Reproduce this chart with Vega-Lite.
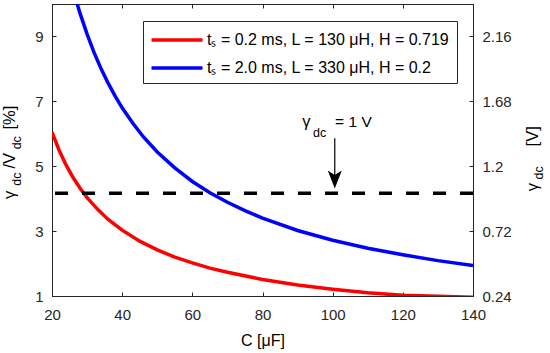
{
  "$schema": "https://vega.github.io/schema/vega-lite/v6.json",
  "width": 421,
  "height": 292,
  "autosize": "none",
  "padding": {"left": 52, "top": 4, "right": 77, "bottom": 57},
  "background": "white",
  "config": {
    "view": {"stroke": "#262626", "strokeWidth": 1},
    "font": "Liberation Sans",
    "axis": {
      "grid": false,
      "domainColor": "#262626",
      "tickColor": "#262626",
      "labelColor": "#262626",
      "labelFont": "Liberation Sans",
      "labelFontSize": 15,
      "labelFlush": false,
      "tickSize": -4,
      "domainWidth": 1,
      "tickWidth": 1
    }
  },
  "layer": [
    {
      "layer": [
        {
          "data": {
            "values": [
              {"series": "tₛ = 0.2 ms, L = 130 μH, H = 0.719", "C": 20, "v": 6.05},
              {"series": "tₛ = 0.2 ms, L = 130 μH, H = 0.719", "C": 22, "v": 5.5},
              {"series": "tₛ = 0.2 ms, L = 130 μH, H = 0.719", "C": 24, "v": 5.04},
              {"series": "tₛ = 0.2 ms, L = 130 μH, H = 0.719", "C": 26, "v": 4.65},
              {"series": "tₛ = 0.2 ms, L = 130 μH, H = 0.719", "C": 28, "v": 4.32},
              {"series": "tₛ = 0.2 ms, L = 130 μH, H = 0.719", "C": 30, "v": 4.03},
              {"series": "tₛ = 0.2 ms, L = 130 μH, H = 0.719", "C": 33, "v": 3.67},
              {"series": "tₛ = 0.2 ms, L = 130 μH, H = 0.719", "C": 36, "v": 3.36},
              {"series": "tₛ = 0.2 ms, L = 130 μH, H = 0.719", "C": 40, "v": 3.03},
              {"series": "tₛ = 0.2 ms, L = 130 μH, H = 0.719", "C": 45, "v": 2.69},
              {"series": "tₛ = 0.2 ms, L = 130 μH, H = 0.719", "C": 50, "v": 2.42},
              {"series": "tₛ = 0.2 ms, L = 130 μH, H = 0.719", "C": 55, "v": 2.2},
              {"series": "tₛ = 0.2 ms, L = 130 μH, H = 0.719", "C": 60, "v": 2.02},
              {"series": "tₛ = 0.2 ms, L = 130 μH, H = 0.719", "C": 65, "v": 1.86},
              {"series": "tₛ = 0.2 ms, L = 130 μH, H = 0.719", "C": 70, "v": 1.73},
              {"series": "tₛ = 0.2 ms, L = 130 μH, H = 0.719", "C": 80, "v": 1.51},
              {"series": "tₛ = 0.2 ms, L = 130 μH, H = 0.719", "C": 90, "v": 1.34},
              {"series": "tₛ = 0.2 ms, L = 130 μH, H = 0.719", "C": 100, "v": 1.21},
              {"series": "tₛ = 0.2 ms, L = 130 μH, H = 0.719", "C": 110, "v": 1.1},
              {"series": "tₛ = 0.2 ms, L = 130 μH, H = 0.719", "C": 120, "v": 1.02},
              {"series": "tₛ = 0.2 ms, L = 130 μH, H = 0.719", "C": 130, "v": 0.99},
              {"series": "tₛ = 0.2 ms, L = 130 μH, H = 0.719", "C": 140, "v": 0.96},
              {"series": "tₛ = 2.0 ms, L = 330 μH, H = 0.2", "C": 27, "v": 10.07},
              {"series": "tₛ = 2.0 ms, L = 330 μH, H = 0.2", "C": 28, "v": 9.71},
              {"series": "tₛ = 2.0 ms, L = 330 μH, H = 0.2", "C": 30, "v": 9.07},
              {"series": "tₛ = 2.0 ms, L = 330 μH, H = 0.2", "C": 32, "v": 8.5},
              {"series": "tₛ = 2.0 ms, L = 330 μH, H = 0.2", "C": 34, "v": 8.0},
              {"series": "tₛ = 2.0 ms, L = 330 μH, H = 0.2", "C": 36, "v": 7.56},
              {"series": "tₛ = 2.0 ms, L = 330 μH, H = 0.2", "C": 38, "v": 7.16},
              {"series": "tₛ = 2.0 ms, L = 330 μH, H = 0.2", "C": 40, "v": 6.8},
              {"series": "tₛ = 2.0 ms, L = 330 μH, H = 0.2", "C": 43, "v": 6.33},
              {"series": "tₛ = 2.0 ms, L = 330 μH, H = 0.2", "C": 46, "v": 5.91},
              {"series": "tₛ = 2.0 ms, L = 330 μH, H = 0.2", "C": 50, "v": 5.44},
              {"series": "tₛ = 2.0 ms, L = 330 μH, H = 0.2", "C": 55, "v": 4.95},
              {"series": "tₛ = 2.0 ms, L = 330 μH, H = 0.2", "C": 60, "v": 4.53},
              {"series": "tₛ = 2.0 ms, L = 330 μH, H = 0.2", "C": 65, "v": 4.18},
              {"series": "tₛ = 2.0 ms, L = 330 μH, H = 0.2", "C": 70, "v": 3.89},
              {"series": "tₛ = 2.0 ms, L = 330 μH, H = 0.2", "C": 75, "v": 3.63},
              {"series": "tₛ = 2.0 ms, L = 330 μH, H = 0.2", "C": 80, "v": 3.4},
              {"series": "tₛ = 2.0 ms, L = 330 μH, H = 0.2", "C": 90, "v": 3.02},
              {"series": "tₛ = 2.0 ms, L = 330 μH, H = 0.2", "C": 100, "v": 2.72},
              {"series": "tₛ = 2.0 ms, L = 330 μH, H = 0.2", "C": 110, "v": 2.47},
              {"series": "tₛ = 2.0 ms, L = 330 μH, H = 0.2", "C": 120, "v": 2.27},
              {"series": "tₛ = 2.0 ms, L = 330 μH, H = 0.2", "C": 130, "v": 2.09},
              {"series": "tₛ = 2.0 ms, L = 330 μH, H = 0.2", "C": 140, "v": 1.94}
            ]
          },
          "mark": {"type": "line", "strokeWidth": 3.5, "clip": true},
          "encoding": {
            "x": {
              "field": "C", "type": "quantitative",
              "scale": {"domain": [20, 140], "nice": false},
              "axis": {
                "orient": "bottom", "values": [20, 40, 60, 80, 100, 120, 140],
                "labelPadding": 15,
                "title": "C [μF]", "titleFontSize": 16, "titleFontWeight": "normal",
                "titleColor": "black", "titleFont": "Liberation Sans",
                "titleBaseline": "alphabetic", "titleY": 49
              }
            },
            "y": {
              "field": "v", "type": "quantitative",
              "scale": {"domain": [1, 10], "nice": false},
              "axis": {"orient": "left", "values": [1, 3, 5, 7, 9], "labelPadding": 13, "title": null}
            },
            "color": {
              "field": "series", "type": "nominal",
              "scale": {
                "domain": ["tₛ = 0.2 ms, L = 130 μH, H = 0.719", "tₛ = 2.0 ms, L = 330 μH, H = 0.2"],
                "range": ["#ff0000", "#0000ff"]
              },
              "legend": {
                "orient": "none", "legendX": 91, "legendY": 17, "title": null,
                "symbolType": "M-2.55,0L2.55,0", "symbolSize": 400, "symbolStrokeWidth": 3.5,
                "symbolOffset": 15,
                "labelFontSize": 16, "labelFont": "Liberation Sans", "labelColor": "black",
                "labelLimit": 400, "labelOffset": 18,
                "strokeColor": "#262626", "fillColor": "white", "padding": 7,
                "rowPadding": 8
              }
            }
          }
        },
        {
          "data": {"values": [{"label": "γ"}]},
          "mark": {"type": "text", "fontSize": 16.5, "align": "left", "baseline": "alphabetic", "color": "black"},
          "encoding": {
            "x": {"datum": 91.3, "type": "quantitative"},
            "y": {"datum": 6.2, "type": "quantitative"},
            "text": {"field": "label"}
          }
        },
        {
          "data": {"values": [{"label": "dc"}]},
          "mark": {"type": "text", "fontSize": 12.5, "align": "left", "baseline": "alphabetic", "color": "black"},
          "encoding": {
            "x": {"datum": 94.4, "type": "quantitative"},
            "y": {"datum": 5.9, "type": "quantitative"},
            "text": {"field": "label"}
          }
        },
        {
          "data": {"values": [{"label": "= 1 V"}]},
          "mark": {"type": "text", "fontSize": 15.5, "align": "left", "baseline": "alphabetic", "color": "black"},
          "encoding": {
            "x": {"datum": 100.7, "type": "quantitative"},
            "y": {"datum": 6.21, "type": "quantitative"},
            "text": {"field": "label"}
          }
        },
        {
          "data": {"values": [{}]},
          "mark": {"type": "rule", "color": "black", "strokeWidth": 1.2},
          "encoding": {
            "x": {"datum": 100.6, "type": "quantitative"},
            "y": {"datum": 5.86, "type": "quantitative"},
            "y2": {"datum": 4.7}
          }
        },
        {
          "data": {"values": [{}]},
          "mark": {"type": "point", "shape": "M0,1L-0.78,-1L0,-0.5L0.78,-1Z", "filled": true, "color": "black", "opacity": 1, "size": 324, "strokeWidth": 0},
          "encoding": {
            "x": {"datum": 100.6, "type": "quantitative"},
            "y": {"datum": 4.59, "type": "quantitative"}
          }
        },
        {
          "data": {"values": [{"label": "γ"}]},
          "mark": {"type": "text", "fontSize": 16.5, "angle": 270, "align": "left", "baseline": "alphabetic", "color": "black"},
          "encoding": {
            "x": {"datum": 9.45, "type": "quantitative"},
            "y": {"datum": 3.99, "type": "quantitative"},
            "text": {"field": "label"}
          }
        },
        {
          "data": {"values": [{"label": "dc"}]},
          "mark": {"type": "text", "fontSize": 12.5, "angle": 270, "align": "left", "baseline": "alphabetic", "color": "black"},
          "encoding": {
            "x": {"datum": 11.2, "type": "quantitative"},
            "y": {"datum": 4.4, "type": "quantitative"},
            "text": {"field": "label"}
          }
        },
        {
          "data": {"values": [{"label": "/V"}]},
          "mark": {"type": "text", "fontSize": 16.5, "angle": 270, "align": "left", "baseline": "alphabetic", "color": "black"},
          "encoding": {
            "x": {"datum": 9.45, "type": "quantitative"},
            "y": {"datum": 4.93, "type": "quantitative"},
            "text": {"field": "label"}
          }
        },
        {
          "data": {"values": [{"label": "dc"}]},
          "mark": {"type": "text", "fontSize": 12.5, "angle": 270, "align": "left", "baseline": "alphabetic", "color": "black"},
          "encoding": {
            "x": {"datum": 11.2, "type": "quantitative"},
            "y": {"datum": 5.52, "type": "quantitative"},
            "text": {"field": "label"}
          }
        },
        {
          "data": {"values": [{"label": "[%]"}]},
          "mark": {"type": "text", "fontSize": 16.5, "angle": 270, "align": "left", "baseline": "alphabetic", "color": "black"},
          "encoding": {
            "x": {"datum": 9.45, "type": "quantitative"},
            "y": {"datum": 6.13, "type": "quantitative"},
            "text": {"field": "label"}
          }
        },
        {
          "data": {"values": [{"label": "γ"}]},
          "mark": {"type": "text", "fontSize": 16.5, "angle": 270, "align": "left", "baseline": "alphabetic", "color": "black"},
          "encoding": {
            "x": {"datum": 158.5, "type": "quantitative"},
            "y": {"datum": 4.23, "type": "quantitative"},
            "text": {"field": "label"}
          }
        },
        {
          "data": {"values": [{"label": "dc"}]},
          "mark": {"type": "text", "fontSize": 12.5, "angle": 270, "align": "left", "baseline": "alphabetic", "color": "black"},
          "encoding": {
            "x": {"datum": 160.0, "type": "quantitative"},
            "y": {"datum": 4.59, "type": "quantitative"},
            "text": {"field": "label"}
          }
        },
        {
          "data": {"values": [{"label": "[V]"}]},
          "mark": {"type": "text", "fontSize": 16.5, "angle": 270, "align": "left", "baseline": "alphabetic", "color": "black"},
          "encoding": {
            "x": {"datum": 158.5, "type": "quantitative"},
            "y": {"datum": 5.61, "type": "quantitative"},
            "text": {"field": "label"}
          }
        }
      ]
    },
    {
      "layer": [
        {
          "data": {"values": [{"V": 1}]},
          "mark": {"type": "rule", "strokeDash": [13, 14], "strokeWidth": 3.5, "color": "black"},
          "encoding": {
            "y": {
              "field": "V", "type": "quantitative",
              "scale": {"domain": [0.24, 2.4], "nice": false},
              "axis": {"orient": "right", "values": [0.24, 0.72, 1.2, 1.68, 2.16], "format": ".3~g", "labelPadding": 13, "title": null}
            }
          }
        },
        {
          "data": {"values": [{}]},
          "mark": {"type": "point", "opacity": 0},
          "encoding": {
            "x": {
              "datum": 20, "type": "quantitative",
              "axis": {"orient": "top", "values": [20, 40, 60, 80, 100, 120, 140], "labels": false, "title": null}
            }
          }
        }
      ]
    }
  ],
  "resolve": {"scale": {"y": "independent"}, "axis": {"x": "independent", "y": "independent"}}
}
